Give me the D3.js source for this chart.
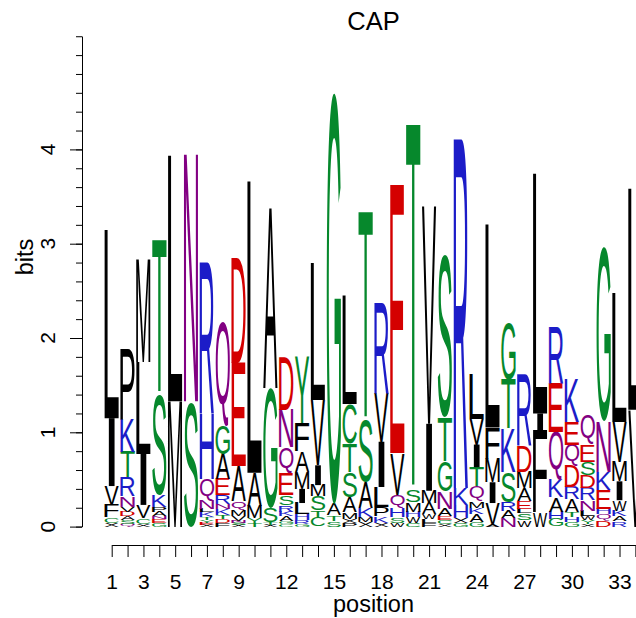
<!DOCTYPE html>
<html>
<head>
<meta charset="utf-8">
<script src="https://cdn.jsdelivr.net/npm/d3@7"></script>
<style>
body { margin: 0; background: #fff; }
svg { display: block; }
text { font-family: "Liberation Sans", Arial, sans-serif; }
</style>
</head>
<body>
<svg width="636" height="618"></svg>
<script>
// letters of each column, bottom to top, and their heights in bits
var stackLetters = [
  "XCFVIL", "QSADVNRTKP", "XCVILM", "GENAPKST", "ML", "SN", "XEYTKLNQHR",
  "FDTKNREAGQ", "XSNVMQAED", "TYMAL", "XTSGA", "CGAKRSEQND", "GRHLIMAFY",
  "CTSMIVL", "STAG", "PXMASTCL", "XMKAST", "XKPLIVR", "WSHQVE", "CWHMST",
  "FLWAMIV", "XCEANGTS", "GXHKR", "GAKMQTIVL", "AVIMFL", "NARSKTG",
  "WSLEAMDR", "WFIL", "GHAKQER", "GHTARDQEK", "XYWLNRDSEQ", "DQHEKNG",
  "RAKWIMVL", "VL"
];
var stackBits = [
  [0.04,0.06,0.13,0.2,0.72,2.0],
  [0.03,0.04,0.04,0.05,0.05,0.11,0.2,0.27,0.35,0.75],
  [0.03,0.06,0.14,0.54,0.98,1.09],
  [0.04,0.04,0.03,0.05,0.05,0.12,1.08,1.63],
  [1.33,2.61],
  [1.33,2.62],
  [0.02,0.02,0.03,0.03,0.05,0.04,0.09,0.22,0.69,1.62],
  [0.04,0.04,0.04,0.07,0.05,0.09,0.17,0.27,0.3,1.1],
  [0.02,0.02,0.02,0.05,0.07,0.09,0.37,1.1,1.12],
  [0.04,0.05,0.13,0.35,3.1],
  [0.02,0.03,0.15,1.27,1.91],
  [0.03,0.03,0.05,0.05,0.07,0.1,0.23,0.28,0.4,0.55],
  [0.03,0.04,0.06,0.12,0.15,0.18,0.22,0.3,0.7],
  [0.1,0.07,0.15,0.12,0.21,0.69,1.45],
  [0.06,0.06,0.12,4.36],
  [0.04,0.04,0.07,0.16,0.27,0.3,0.42,1.15],
  [0.05,0.05,0.1,0.27,0.67,2.2],
  [0.04,0.07,0.1,0.21,0.48,0.51,0.98],
  [0.04,0.06,0.1,0.14,0.44,2.85],
  [0.04,0.06,0.06,0.1,0.13,3.88],
  [0.04,0.04,0.05,0.12,0.13,0.71,2.31],
  [0.03,0.04,0.04,0.08,0.18,0.32,0.47,1.75],
  [0.04,0.05,0.14,0.18,3.76],
  [0.05,0.08,0.07,0.07,0.16,0.2,0.24,0.27,0.48],
  [0.02,0.23,0.22,0.25,0.33,2.16],
  [0.09,0.08,0.09,0.32,0.46,0.52,0.6],
  [0.07,0.07,0.05,0.08,0.14,0.17,0.27,0.77],
  [0.15,0.87,0.18,2.55],
  [0.08,0.08,0.15,0.19,0.5,0.52,0.6],
  [0.05,0.05,0.06,0.13,0.13,0.23,0.22,0.24,0.46],
  [0.03,0.04,0.04,0.06,0.11,0.13,0.14,0.14,0.18,0.31],
  [0.07,0.06,0.06,0.2,0.19,0.53,1.85],
  [0.06,0.05,0.06,0.11,0.2,0.21,0.42,1.37],
  [1.24,2.35]
];
var positions = d3.range(1, 35);
var xTickLabels = [1, 3, 5, 7, 9, 12, 15, 18, 21, 24, 27, 30, 33];
var yTickLabels = [0, 1, 2, 3, 4];
var yMinorTicks = d3.range(27).map(function(i) { return +(i * 0.2).toFixed(1); });

var svg = d3.select("svg");

var x = d3.scaleLinear().domain([1, 34]).range([111.7, 635.4]);
var y = d3.scaleLinear().domain([0, 5.2]).range([526.6, 526.6 - 5.2 * 94.3]);
var colW = (x(2) - x(1)) * 0.9;

function letterColor(ch) {
  if ("GSTYC".indexOf(ch) >= 0) return "#06882c";
  if ("KRH".indexOf(ch) >= 0) return "#1c1cc8";
  if ("DE".indexOf(ch) >= 0) return "#d40000";
  if ("NQ".indexOf(ch) >= 0) return "#820082";
  return "#000000";
}

// measure glyph ink so each letter can be stretched to fill its box
var ctx = document.createElement("canvas").getContext("2d");
ctx.font = "100px 'Liberation Sans'";
function ink(ch) {
  var m = ctx.measureText(ch);
  return {l: m.actualBoundingBoxLeft, r: m.actualBoundingBoxRight,
          a: m.actualBoundingBoxAscent, d: m.actualBoundingBoxDescent};
}

var glyphs = [];
stackLetters.forEach(function(s, i) {
  var base = 0;
  s.split("").forEach(function(ch, j) {
    var h = stackBits[i][j];
    glyphs.push({pos: positions[i], ch: ch, y0: base, y1: base + h});
    base += h;
  });
});

var g = svg.append("g");
glyphs.forEach(function(d) {
  var x0 = x(d.pos) - colW / 2;
  var top = y(d.y1);
  var h = y(d.y0) - y(d.y1);
  if (d.ch == "I") {
    g.append("rect")
      .attr("x", x(d.pos) - colW * 0.2)
      .attr("y", top)
      .attr("width", colW * 0.4)
      .attr("height", h)
      .attr("fill", letterColor(d.ch));
    return;
  }
  var m = ink(d.ch);
  var sx = colW / (m.l + m.r), sy = h / (m.a + m.d);
  g.append("text")
    .attr("transform", "translate(" + (x0 + m.l * sx) + "," + (top + m.a * sy) + ") scale(" + sx + "," + sy + ")")
    .attr("font-size", 100)
    .attr("fill", letterColor(d.ch))
    .text(d.ch);
});

// x axis
var xAxis = svg.append("g")
  .attr("transform", "translate(0,545)")
  .call(d3.axisBottom(x).tickValues(positions).tickSize(12).tickSizeOuter(0).tickPadding(17)
    .tickFormat(function(d) { return xTickLabels.indexOf(d) >= 0 ? d : ""; }));
xAxis.selectAll("text").attr("font-size", 21).attr("font-family", "Liberation Sans, Arial, sans-serif").attr("fill", "#000");

// y axis: minor ticks every 0.2, long ticks at whole bits
svg.append("g")
  .attr("transform", "translate(82,0)")
  .call(d3.axisLeft(y).tickValues(yMinorTicks).tickSize(6).tickSizeOuter(0).tickFormat(""));
svg.append("g")
  .attr("transform", "translate(82,0)")
  .call(d3.axisLeft(y).tickValues(yTickLabels).tickSize(12).tickSizeOuter(0).tickFormat(""));
svg.selectAll("path, line").attr("stroke", "#000");

svg.append("g").selectAll("text")
  .data(yTickLabels)
  .enter()
  .append("text")
  .attr("transform", function(d) { return "translate(55," + y(d) + ") rotate(-90)"; })
  .attr("text-anchor", "middle")
  .attr("font-size", 21)
  .text(function(d) { return d; });

svg.append("text")
  .attr("transform", "translate(33,257) rotate(-90)")
  .attr("text-anchor", "middle")
  .attr("font-size", 23.5)
  .text("bits");

svg.append("text")
  .attr("x", 373.5)
  .attr("y", 612)
  .attr("text-anchor", "middle")
  .attr("font-size", 23.5)
  .text("position");

svg.append("text")
  .attr("x", 373.5)
  .attr("y", 30)
  .attr("text-anchor", "middle")
  .attr("font-size", 25.5)
  .text("CAP");
</script>
</body>
</html>
